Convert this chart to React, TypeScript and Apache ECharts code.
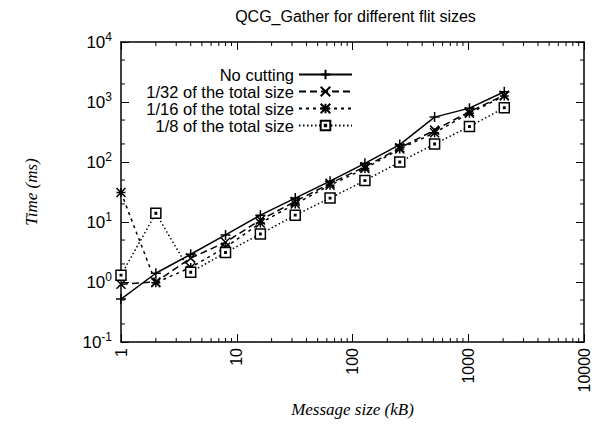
import React, { useEffect, useRef } from "react";
import * as echarts from "echarts";

// ---- data ----
const messageSizes = [1, 2, 4, 8, 16, 32, 64, 128, 256, 512, 1024, 2048];
const noCutting = [0.52, 1.4, 2.9, 6.1, 13, 25, 48, 95, 195, 560, 790, 1480];
const cut32 = [0.92, 1.0, 2.5, 4.6, 10.8, 22, 44, 83, 172, 340, 690, 1300];
const cut16 = [31, 0.97, 1.75, 3.8, 9.6, 20, 41, 78, 165, 308, 650, 1260];
const cut8 = [1.3, 14, 1.45, 3.1, 6.3, 13, 25, 49, 100, 200, 390, 800];
const seriesNames = [
  "No cutting",
  "1/32 of the total size",
  "1/16 of the total size",
  "1/8 of the total size",
];
const xMinorTicks = [
  2, 3, 4, 5, 6, 7, 8, 9,
  20, 30, 40, 50, 60, 70, 80, 90,
  200, 300, 400, 500, 600, 700, 800, 900,
  2000, 3000, 4000, 5000, 6000, 7000, 8000, 9000,
];
const yMinorTicks = [0.2, 0.5, 2, 5, 20, 50, 200, 500, 2000, 5000];

const SANS = "'Liberation Sans', Arial, sans-serif";
const SERIF = "'Liberation Serif', 'Times New Roman', serif";

const SYM_PLUS = "path://M5,0L5,10M0,5L10,5";
const SYM_X = "path://M0,0L10,10M10,0L0,10";
const SYM_STAR = "path://M0,0L10,10M10,0L0,10M5,0L5,10M0,5L10,5";
const SYM_SQUARE = "path://M0,0L10,0L10,10L0,10Z M4.3,4.3L5.7,4.3L5.7,5.7L4.3,5.7Z";

export default function App() {
  const ref = useRef<HTMLDivElement>(null);
  useEffect(() => {
    document.body.style.margin = "0";
    const chart = echarts.init(ref.current!, null, { renderer: "svg" });
    const mk = (
      name: string,
      vals: number[],
      symbol: string,
      size: number,
      dash: any,
      fill: string
    ) => ({
      name,
      type: "line",
      xAxisIndex: 0,
      yAxisIndex: 0,
      data: messageSizes.map((x, i) => [x, vals[i]]),
      symbol,
      symbolSize: size,
      showSymbol: true,
      lineStyle: { color: "#000", width: 1.5, type: dash },
      itemStyle: { color: fill, borderColor: "#000", borderWidth: 1.5 },
      emphasis: { disabled: true },
      z: 3,
    });
    const tickStyle = { stroke: "#000", lineWidth: 1 };
    const axisCommon = {
      axisLine: { show: true, lineStyle: { color: "#000", width: 1.5 } },
      axisTick: { show: true, inside: true, length: 8, lineStyle: { color: "#000", width: 1 } },
      splitLine: { show: false },
    };
    chart.setOption({
      animation: false,
      backgroundColor: "#fff",
      grid: { left: 121, top: 42, width: 469, height: 300, containLabel: false },
      graphic: [
        {
          type: "text",
          x: 355.5,
          y: 16,
          style: {
            text: "QCG_Gather for different flit sizes",
            font: `16px ${SANS}`,
            fill: "#000",
            textAlign: "center",
            textVerticalAlign: "middle",
          },
        },
      ],
      legend: {
        data: seriesNames,
        orient: "vertical",
        right: 234,
        top: 61,
        align: "right",
        itemWidth: 53,
        itemHeight: 12,
        itemGap: 0,
        textStyle: { fontFamily: SANS, fontSize: 16.5, color: "#000", lineHeight: 16.5 },
        selectedMode: false,
      },
      xAxis: [
        {
          type: "log",
          logBase: 10,
          min: 1,
          max: 10000,
          position: "bottom",
          ...axisCommon,
          axisLabel: {
            rotate: 90,
            margin: 6,
            fontFamily: SANS,
            fontSize: 16,
            color: "#000",
            formatter: (v: number) => String(Math.round(v)),
          },
          name: "Message size (kB)",
          nameLocation: "middle",
          nameGap: 59,
          nameTextStyle: { fontFamily: SERIF, fontStyle: "italic", fontSize: 17, color: "#000" },
        },
        {
          type: "log",
          logBase: 10,
          min: 1,
          max: 10000,
          position: "top",
          ...axisCommon,
          axisLabel: { show: false },
        },
      ],
      yAxis: [
        {
          type: "log",
          logBase: 10,
          min: 0.1,
          max: 10000,
          position: "left",
          ...axisCommon,
          axisLabel: {
            margin: 9,
            color: "#000",
            formatter: (v: number) => `{b|10}{s|${Math.round(Math.log10(v))}}`,
            rich: {
              b: { fontFamily: SANS, fontSize: 17, color: "#000", lineHeight: 22 },
              s: { fontFamily: SANS, fontSize: 12, color: "#000", lineHeight: 12, verticalAlign: "top" },
            },
          },
          name: "Time (ms)",
          nameLocation: "middle",
          nameGap: 81,
          nameTextStyle: { fontFamily: SERIF, fontStyle: "italic", fontSize: 17, color: "#000" },
        },
        {
          type: "log",
          logBase: 10,
          min: 0.1,
          max: 10000,
          position: "right",
          ...axisCommon,
          axisLabel: { show: false },
        },
      ],
      series: [
        mk(seriesNames[0], noCutting, SYM_PLUS, 10, "solid", "none"),
        mk(seriesNames[1], cut32, SYM_X, 9, [7, 4], "none"),
        mk(seriesNames[2], cut16, SYM_STAR, 9, [3, 4], "none"),
        mk(seriesNames[3], cut8, SYM_SQUARE, 10, [1.5, 2.5], "#fff"),
        {
          type: "custom",
          name: "xminor",
          xAxisIndex: 0,
          yAxisIndex: 0,
          silent: true,
          clip: false,
          data: xMinorTicks.map((v) => [v, 1]),
          renderItem: (_p: any, api: any) => {
            const x = api.value(0);
            const b = api.coord([x, 0.1]);
            const t = api.coord([x, 10000]);
            return {
              type: "group",
              children: [
                { type: "line", shape: { x1: b[0], y1: b[1], x2: b[0], y2: b[1] - 4 }, style: tickStyle },
                { type: "line", shape: { x1: t[0], y1: t[1], x2: t[0], y2: t[1] + 4 }, style: tickStyle },
              ],
            };
          },
        },
        {
          type: "custom",
          name: "yminor",
          xAxisIndex: 0,
          yAxisIndex: 0,
          silent: true,
          clip: false,
          data: yMinorTicks.map((v) => [1, v]),
          renderItem: (_p: any, api: any) => {
            const y = api.value(1);
            const l = api.coord([1, y]);
            const r = api.coord([10000, y]);
            return {
              type: "group",
              children: [
                { type: "line", shape: { x1: l[0], y1: l[1], x2: l[0] + 4, y2: l[1] }, style: tickStyle },
                { type: "line", shape: { x1: r[0], y1: r[1], x2: r[0] - 4, y2: r[1] }, style: tickStyle },
              ],
            };
          },
        },
      ],
    });
    return () => chart.dispose();
  }, []);
  return <div ref={ref} style={{ width: 592, height: 424 }} />;
}
